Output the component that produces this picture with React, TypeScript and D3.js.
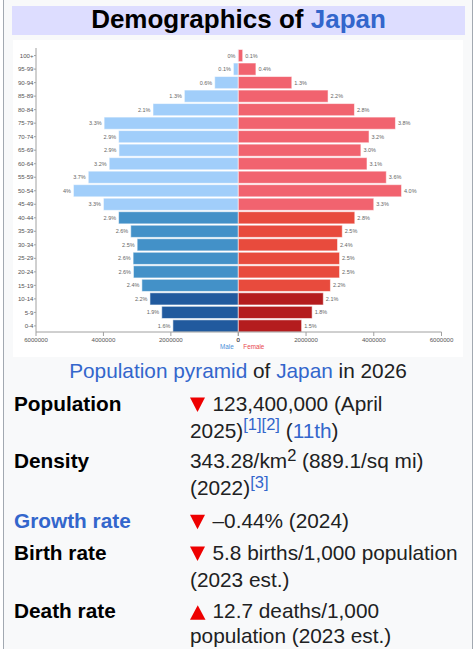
import * as d3 from "d3";

// population by age group, in thousands (bottom row first)
const ageGroups = [
  "0-4", "5-9", "10-14", "15-19", "20-24", "25-29", "30-34", "35-39", "40-44", "45-49",
  "50-54", "55-59", "60-64", "65-69", "70-74", "75-79", "80-84", "85-89", "90-94", "95-99", "100+",
];
const male = [
  1940, 2270, 2620, 2860, 3110, 3120, 3000, 3190, 3550, 4000,
  4890, 4450, 3830, 3540, 3550, 3980, 2530, 1600, 700, 146, 12,
];
const female = [
  1870, 2180, 2510, 2720, 2990, 2990, 2930, 3070, 3440, 4000,
  4820, 4370, 3800, 3620, 3860, 4640, 3430, 2650, 1580, 520, 130,
];
const xTicks = [0, 2000, 4000, 6000];

const maleColors = ["#215a9e", "#4391c8", "#a1cefa"];
const femaleColors = ["#b41c1e", "#e84b3d", "#f1636f"];
// 0: under 15, 1: 15-44, 2: 45 and over
const band = (i: number) => (i < 3 ? 0 : i < 9 ? 1 : 2);

const LINK = "#3366cc";
const TEXT = "#202122";
const FONT = "'Liberation Sans', Arial, sans-serif";

const total = d3.sum(male) + d3.sum(female);
const pct = (v: number) => (v / total) * 100;

const Pyramid = () => {
  const mid = 238.3;
  const top = 49.5;
  const bottom = 332;
  const left = 36;
  const right = 441.5;

  const y = d3.scaleBand<string>().domain(ageGroups).range([bottom, top]).paddingInner(0.1);
  const xm = d3.scaleLinear().domain([0, 6000]).range([mid, left]);
  const xf = d3.scaleLinear().domain([0, 6000]).range([mid, right]);
  const axis = "#a0a0a0";

  return (
    <g fontFamily={FONT}>
      <rect x={13} y={40} width={450} height={317} fill="#fff" />
      {ageGroups.map((g, i) => {
        const yy = y(g)!;
        const h = y.bandwidth();
        const cy = yy + h / 2;
        const mx = xm(male[i]);
        const fx = xf(female[i]);
        return (
          <g key={g}>
            <rect x={mx} y={yy} width={mid - mx} height={h}
              fill={maleColors[band(i)]} stroke="#fff" strokeOpacity={0.55} />
            <rect x={mid} y={yy} width={fx - mid} height={h}
              fill={femaleColors[band(i)]} stroke="#fff" strokeOpacity={0.55} />
            <text x={mx - 2.5} y={cy} dy="0.35em" textAnchor="end" fontSize={5.5} fill="#666">
              {`${+pct(male[i]).toFixed(1)}%`}
            </text>
            <text x={fx + 2.5} y={cy} dy="0.35em" fontSize={5.5} fill="#666">
              {`${pct(female[i]).toFixed(1)}%`}
            </text>
            <line x1={left - 2} x2={left} y1={cy} y2={cy} stroke={axis} />
            <text x={left - 2.5} y={cy} dy="0.35em" textAnchor="end" fontSize={6.1} fill="#555">
              {g}
            </text>
          </g>
        );
      })}
      <line x1={left} x2={left} y1={top - 1.5} y2={bottom} stroke={axis} />
      <line x1={left} x2={right} y1={bottom} y2={bottom} stroke={axis} />
      {xTicks.map((t) => (
        <g key={"m" + t}>
          <line x1={xm(t)} x2={xm(t)} y1={bottom} y2={bottom + 4} stroke={axis} />
          <text x={xm(t)} y={341.5} textAnchor="middle" fontSize={6.1} fill="#555">{t * 1000}</text>
        </g>
      ))}
      {xTicks.map((t) => (
        <g key={"f" + t}>
          <line x1={xf(t)} x2={xf(t)} y1={bottom} y2={bottom + 4} stroke={axis} />
          <text x={xf(t)} y={341.5} textAnchor="middle" fontSize={6.1} fill="#555">{t * 1000}</text>
        </g>
      ))}
      <text x={220} y={349.2} fontSize={6.3} fill="#4a90d9">Male</text>
      <text x={243.3} y={349.2} fontSize={6.3} fill="#e8474c">Female</text>
    </g>
  );
};

const Down = ({ y }: { y: number }) => (
  <path d={`M190,${y - 13.5}L205,${y - 13.5}L197.5,${y + 1}Z`} fill="#ee0000" />
);
const Up = ({ y }: { y: number }) => (
  <path d={`M190,${y + 1.5}L205.5,${y + 1.5}L197.75,${y - 13}Z`} fill="#ee0000" />
);

export default function App() {
  const fs = 20.8;
  const sup = 16.5;
  return (
    <div style={{ position: "absolute", left: 0, top: 0 }}>
      <svg width={474} height={649} style={{ display: "block" }}>
        <rect x={0} y={0} width={474} height={649} fill="#fff" />
        <rect x={3.5} y={-1} width={469} height={651} fill="#f8f9fa" stroke="#a2a9b1" />
        <rect x={12} y={6} width={453} height={29} fill="#ddddff" />
        <text x={238.5} y={28.3} textAnchor="middle" fontFamily={FONT} fontSize={26}
          fontWeight="bold" fill="#000">
          Demographics of <tspan fill={LINK}>Japan</tspan>
        </text>

        <Pyramid />

        <g fontFamily={FONT} fontSize={fs} fill={TEXT}>
          <text x={238} y={377.5} textAnchor="middle">
            <tspan fill={LINK}>Population pyramid</tspan> of <tspan fill={LINK}>Japan</tspan> in 2026
          </text>

          <text x={14} y={411} fontWeight="bold" fill="#000">Population</text>
          <Down y={411} />
          <text x={212.5} y={411}>123,400,000 (April</text>
          <text x={190} y={437.7}>
            2025)<tspan dy={-7.5} fontSize={sup} fill={LINK}>[1][2]</tspan>
            <tspan dy={7.5}> (</tspan><tspan fill={LINK}>11th</tspan>)
          </text>

          <text x={14} y={468.3} fontWeight="bold" fill="#000">Density</text>
          <text x={190} y={468.3}>
            343.28/km<tspan dy={-7.5} fontSize={sup}>2</tspan>
            <tspan dy={7.5}> (889.1/sq mi)</tspan>
          </text>
          <text x={190} y={495}>
            (2022)<tspan dy={-7.5} fontSize={sup} fill={LINK}>[3]</tspan>
          </text>

          <text x={14} y={528.3} fontWeight="bold" fill={LINK}>Growth rate</text>
          <Down y={528.3} />
          <text x={212.5} y={528.3}>–0.44% (2024)</text>

          <text x={14} y={560} fontWeight="bold" fill="#000">Birth rate</text>
          <Down y={560} />
          <text x={212.5} y={560}>5.8 births/1,000 population</text>
          <text x={190} y={587.3}>(2023 est.)</text>

          <text x={14} y={618.3} fontWeight="bold" fill="#000">Death rate</text>
          <Up y={618.3} />
          <text x={212.5} y={618.3}>12.7 deaths/1,000</text>
          <text x={190} y={643}>population (2023 est.)</text>
        </g>
      </svg>
    </div>
  );
}
